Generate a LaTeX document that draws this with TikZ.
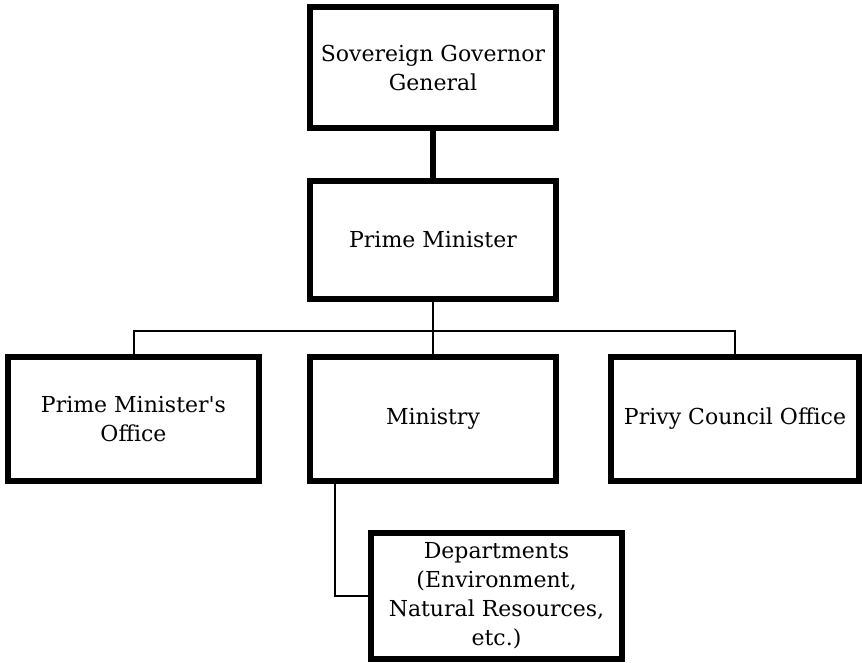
\documentclass[tikz,border=0pt]{standalone}
\usepackage{fontspec}
\setmainfont{DejaVu Serif}
% straight apostrophe, placed as a glyph so that the TeX quote mapping leaves it alone
\newcommand\straightapos{\XeTeXglyph\XeTeXglyphindex "quotesingle"\relax}
\begin{document}
\begin{tikzpicture}[x=1pt,y=-1pt,
  orgbox/.style={draw=black, line width=6.5pt, fill=white, align=center,
    inner sep=0pt, font=\fontsize{22}{29}\selectfont},
  thinline/.style={draw=black, line width=2pt},
  thickline/.style={draw=black, line width=6.5pt}]
\useasboundingbox (0,0) rectangle (862,663);

\node[orgbox, minimum width=246pt, minimum height=121pt] (gov) at (433,67.5) {Sovereign Governor\\General};
\node[orgbox, minimum width=246pt, minimum height=118pt] (pm) at (433,240) {Prime Minister};
\node[orgbox, minimum width=251pt, minimum height=124pt] (pmo) at (133.5,419) {Prime Minister\straightapos s\\Office};
\node[orgbox, minimum width=246pt, minimum height=124pt] (min) at (433,419) {Ministry};
\node[orgbox, minimum width=248pt, minimum height=124pt] (pco) at (735,419) {Privy Council Office};
\node[orgbox, minimum width=251pt, minimum height=126pt] (dep) at (496.5,596) {Departments\\(Environment,\\Natural Resources,\\etc.)};

\coordinate (bus) at (433,331);

% thick link between the top two boxes
\draw[thickline] (gov.south) -- (pm.north);

% branch from the Prime Minister to the three offices
\draw[thinline] (pm.south) -- (bus) -- (min.north);
\draw[thinline] (pmo.north) |- (bus) -| (pco.north);

% Ministry to its departments
\draw[thinline] ([xshift=-98pt]min.south) |- (dep.west);
\end{tikzpicture}
\end{document}
